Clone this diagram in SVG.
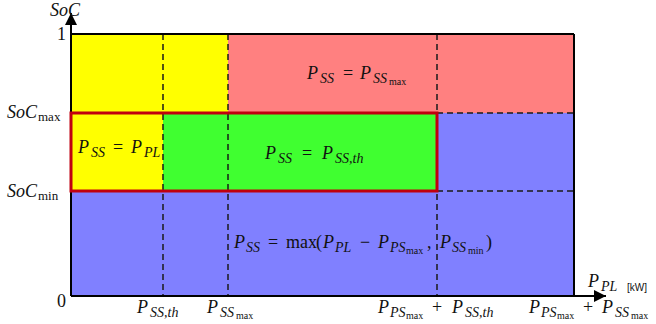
<svg xmlns="http://www.w3.org/2000/svg" width="656" height="324" viewBox="0 0 656 324">
<defs>
<style>
.i{font-family:"Liberation Serif",serif;font-style:italic;font-size:18px;fill:#111}
.u{font-style:normal;font-size:18px}
.s{font-style:italic;font-size:14px}
.ss{font-style:normal;font-size:10px}
.sm{font-style:normal;font-size:13px}
.kw{font-family:"Liberation Sans",sans-serif;font-style:normal;font-size:10px}
.dash{stroke:#1a1a1a;stroke-width:1.5;stroke-dasharray:6,4;fill:none}
.ax{stroke:#000;stroke-width:2;fill:none}
</style>
<marker id="arr" markerUnits="userSpaceOnUse" markerWidth="14" markerHeight="12" refX="12" refY="6" orient="auto">
<path d="M0,0 L12,6 L0,12 Z" fill="#000"/>
</marker>
</defs>
<rect width="656" height="324" fill="#fff"/>
<g id="region-blue"><rect x="71" y="191" width="503" height="105" fill="#8080FF"/><rect x="437" y="113" width="137" height="78" fill="#8080FF"/></g>
<g id="region-yellow"><rect x="71" y="34" width="157" height="79" fill="#FFFF00"/><rect x="71" y="113" width="92" height="78" fill="#FFFF00"/></g>
<g id="region-red"><rect x="228" y="34" width="346" height="79" fill="#FF8080"/></g>
<g id="region-green"><rect x="163" y="113" width="274" height="78" fill="#40FF30"/></g>
<g id="connectors">
<line class="dash" x1="163" y1="34" x2="163" y2="296"/>
<line class="dash" x1="228" y1="34" x2="228" y2="296"/>
<line class="dash" x1="437" y1="34" x2="437" y2="296"/>
<line class="dash" x1="437" y1="113" x2="574" y2="113"/>
<line class="dash" x1="437" y1="191" x2="574" y2="191"/>
<line class="ax" x1="71" y1="34" x2="574" y2="34"/>
<line class="ax" x1="574" y1="34" x2="574" y2="296"/>
<line class="ax" x1="71" y1="296" x2="71" y2="13" marker-end="url(#arr)"/>
<line class="ax" x1="71" y1="296" x2="606" y2="296" marker-end="url(#arr)"/>
</g>
<g id="band-outline"><rect x="71" y="113" width="366" height="78" fill="none" stroke="#C0000F" stroke-width="3"/></g>
<g id="labels">
<text class="i"><tspan x="307" y="79">P</tspan><tspan class="s" x="320" y="83">SS</tspan><tspan class="u" x="343" y="79">=</tspan><tspan x="360" y="79">P</tspan><tspan class="s" x="373" y="83">SS</tspan><tspan class="ss" x="389" y="85">max</tspan></text>
<text class="i"><tspan x="78" y="153">P</tspan><tspan class="s" x="91" y="157">SS</tspan><tspan class="u" x="113" y="153">=</tspan><tspan x="131" y="153">P</tspan><tspan class="s" x="144" y="157">PL</tspan></text>
<text class="i"><tspan x="265" y="159">P</tspan><tspan class="s" x="278" y="163">SS</tspan><tspan class="u" x="302" y="159">=</tspan><tspan x="322" y="159">P</tspan><tspan class="s" x="335" y="163">SS,th</tspan></text>
<text class="i"><tspan x="234" y="248">P</tspan><tspan class="s" x="246" y="252">SS</tspan><tspan class="u" x="268" y="248">=</tspan><tspan class="u" x="286" y="248">max</tspan><tspan class="u" x="316" y="248">(</tspan><tspan x="323" y="248">P</tspan><tspan class="s" x="335" y="252">PL</tspan><tspan class="u" x="360" y="248">−</tspan><tspan x="378" y="248">P</tspan><tspan class="s" x="390" y="252">PS</tspan><tspan class="ss" x="406" y="254">max</tspan><tspan class="u" x="427" y="248">,</tspan><tspan x="440" y="248">P</tspan><tspan class="s" x="452" y="252">SS</tspan><tspan class="ss" x="468" y="254">min</tspan><tspan class="u" x="486" y="248">)</tspan></text>
<text class="i" x="50" y="16">SoC</text>
<text class="i"><tspan x="7" y="118">SoC</tspan><tspan class="sm" x="38" y="121">max</tspan></text>
<text class="i"><tspan x="7" y="197">SoC</tspan><tspan class="sm" x="38" y="200">min</tspan></text>
<text class="i u" x="57" y="40">1</text>
<text class="i u" x="57" y="307">0</text>
<text class="i"><tspan x="137" y="313">P</tspan><tspan class="s" x="150" y="317">SS,th</tspan></text>
<text class="i"><tspan x="207" y="313">P</tspan><tspan class="s" x="220" y="317">SS</tspan><tspan class="ss" x="236" y="319">max</tspan></text>
<text class="i"><tspan x="378" y="313">P</tspan><tspan class="s" x="390" y="317">PS</tspan><tspan class="ss" x="406" y="319">max</tspan><tspan class="u" x="432" y="313">+</tspan><tspan x="452" y="313">P</tspan><tspan class="s" x="465" y="317">SS,th</tspan></text>
<text class="i"><tspan x="529" y="313">P</tspan><tspan class="s" x="541" y="317">PS</tspan><tspan class="ss" x="557" y="319">max</tspan><tspan class="u" x="583" y="313">+</tspan><tspan x="602" y="313">P</tspan><tspan class="s" x="615" y="317">SS</tspan><tspan class="ss" x="631" y="319">max</tspan></text>
<text class="i"><tspan x="588" y="287">P</tspan><tspan class="s" x="601" y="291">PL</tspan><tspan class="kw" x="627" y="291">[kW]</tspan></text>
</g>
</svg>
